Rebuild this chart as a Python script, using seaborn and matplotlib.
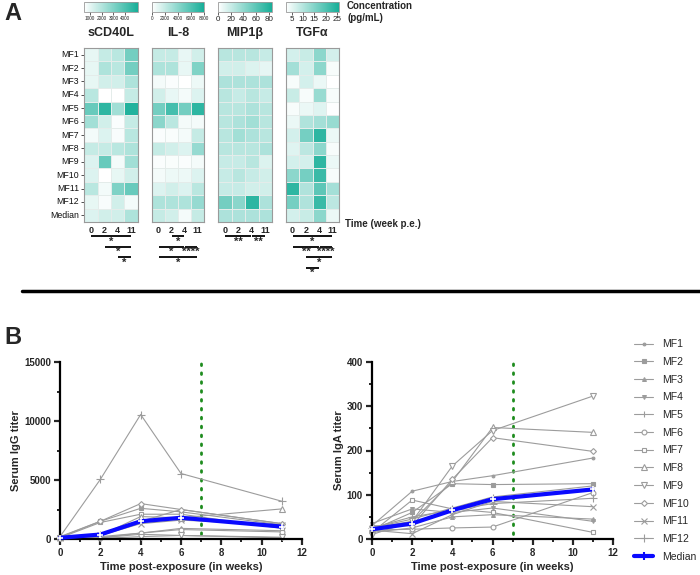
import numpy as np
import pandas as pd
import matplotlib
matplotlib.use("Agg")
import matplotlib.pyplot as plt
import seaborn as sns
from matplotlib.colors import LinearSegmentedColormap
from matplotlib.lines import Line2D
from matplotlib.transforms import blended_transform_factory
from matplotlib.ticker import MultipleLocator

# ---------------- data ----------------
animals = ["MF1", "MF2", "MF3", "MF4", "MF5", "MF6", "MF7", "MF8", "MF9", "MF10", "MF11", "MF12"]
row_labels = animals + ["Median"]
time_labels = ["0", "2", "4", "11"]

scd40l = [[960, 1650, 1880, 3260], [960, 2110, 1880, 3260], [960, 1420, 1420, 2110],
          [1880, 500, 500, 1650], [3490, 4640, 2340, 4870], [2340, 1420, 590, 1650],
          [730, 1190, 640, 1880], [1650, 1650, 1880, 2110], [1190, 3490, 730, 2340],
          [1190, 500, 960, 1420], [1880, 730, 3030, 3490], [960, 640, 1420, 730],
          [1190, 1420, 1420, 2110]]
il8 = [[2000, 2000, 800, 1600], [2800, 2800, 800, 4400], [400, 160, 0, 640],
       [1600, 800, 400, 1200], [4800, 6400, 4800, 7200], [4000, 2400, 400, 400],
       [160, 240, 400, 2000], [2000, 1600, 1200, 3600], [160, 240, 160, 400],
       [400, 640, 640, 1200], [1200, 1600, 1200, 2400], [2800, 2800, 2800, 3600],
       [2000, 1600, 400, 2000]]
mip1b = [[26, 26, 26, 21], [17, 17, 13, 9], [30, 30, 30, 30], [26, 21, 26, 21],
         [26, 26, 30, 26], [26, 30, 34, 26], [26, 34, 30, 26], [26, 26, 26, 30],
         [21, 21, 26, 13], [21, 26, 21, 17], [21, 21, 17, 17], [51, 43, 77, 30],
         [30, 30, 30, 30]]
tgfa = [[6.8, 8.0, 14.0, 6.8], [11.6, 6.8, 14.0, 3.2], [3.2, 6.8, 4.4, 2.0],
        [8.0, 3.2, 12.8, 3.2], [3.2, 4.4, 5.6, 2.5], [4.4, 10.4, 11.6, 12.8],
        [6.8, 16.4, 23.6, 4.4], [5.6, 9.2, 14.0, 3.2], [6.8, 6.8, 23.6, 4.4],
        [14.0, 16.4, 22.4, 3.2], [23.6, 10.4, 18.8, 11.6], [16.4, 10.4, 22.4, 9.2],
        [6.8, 8.0, 14.0, 4.4]]

# significance brackets: (from column, to column, label, row)
sig_scd40l = [(0, 3, "*", 0), (1, 3, "*", 1), (2, 3, "*", 2)]
sig_il8 = [(1, 2, "*", 0), (0, 2, "*", 1), (2, 3, "****", 1), (0, 3, "*", 2)]
sig_mip1b = [(0, 2, "**", 0), (2, 3, "**", 0)]
sig_tgfa = [(0, 3, "*", 0), (0, 2, "**", 1), (2, 3, "****", 1), (1, 3, "*", 2), (1, 2, "*", 3)]

weeks = [0, 2, 4, 6, 11]
igg = [[100, 300, 1400, 1700, 1100], [150, 1500, 2600, 2300, 1200], [100, 200, 500, 900, 700],
       [50, 100, 400, 300, 100], [100, 400, 1500, 2500, 1300], [50, 100, 500, 800, 600],
       [100, 1400, 2100, 2100, 900], [200, 300, 1900, 1800, 2550], [50, 50, 200, 300, 150],
       [200, 1500, 3000, 2500, 1300], [50, 300, 1300, 1600, 1200], [200, 5050, 10550, 5550, 3200]]
igg_median = [100, 380, 1500, 1800, 1050]
iga = [[30, 108, 130, 143, 183], [20, 60, 125, 123, 125], [15, 25, 50, 55, 45],
       [35, 68, 60, 70, 40], [25, 45, 70, 95, 120], [20, 22, 25, 27, 105],
       [15, 88, 68, 60, 15], [25, 40, 130, 252, 241], [10, 40, 165, 245, 323],
       [30, 30, 135, 229, 198], [20, 12, 55, 85, 73], [25, 50, 65, 80, 92]]
iga_median = [22, 35, 65, 90, 112]

# ---------------- style ----------------
sns.set_style("white")
plt.rcParams["font.family"] = ["Liberation Sans", "DejaVu Sans"]

W, H = 700, 575
fig = plt.figure(figsize=(7, 5.75), dpi=100)


def px_axes(x0, y0, x1, y1):
    return fig.add_axes([x0 / W, 1 - y1 / H, (x1 - x0) / W, (y1 - y0) / H])


def fig_text(x, y, s, **kw):
    fig.text(x / W, 1 - y / H, s, **kw)


teal = LinearSegmentedColormap.from_list("teal", ["#ffffff", "#17ae98"])

panels = [
    ("sCD40L", scd40l, 490, 5100, [1000, 2000, 3000, 4000], 84, 138, 3.4, sig_scd40l),
    ("IL-8", il8, 0, 8000, [0, 2000, 4000, 6000, 8000], 152, 204, 3.4, sig_il8),
    ("MIP1β", mip1b, 0, 85, [0, 20, 40, 60, 80], 218, 272, 5.8, sig_mip1b),
    ("TGFα", tgfa, 2.3, 26, [5, 10, 15, 20, 25], 286, 339, 5.8, sig_tgfa),
]
hm_top, hm_bot = 48, 222
sig_rows = [236, 246.5, 257, 267.5]

for i, (name, vals, vmin, vmax, cticks, x0, x1, cfs, sigs) in enumerate(panels):
    df = pd.DataFrame(vals, index=row_labels, columns=time_labels)
    ax = px_axes(x0, hm_top, x1, hm_bot)
    cax = px_axes(x0, 2, x1, 12)
    sns.heatmap(df, ax=ax, cmap=teal, vmin=vmin, vmax=vmax, linewidths=0.4,
                linecolor="#e4ecea", cbar_ax=cax, xticklabels=True,
                yticklabels=(i == 0),
                cbar_kws={"orientation": "horizontal", "ticks": cticks})
    cax.tick_params(labelsize=cfs, length=2, width=0.5, pad=1, colors="#222222")
    cb = ax.collections[0].colorbar
    cb.outline.set_edgecolor("#999999")
    cb.outline.set_linewidth(0.6)
    for sp in ax.spines.values():
        sp.set_visible(True)
        sp.set_edgecolor("#9a9a9a")
        sp.set_linewidth(0.8)
    ax.set_xlabel("")
    ax.set_ylabel("")
    ax.tick_params(axis="x", length=0, labelsize=6.5, pad=3)
    for t in ax.get_xticklabels():
        t.set_fontweight("bold")
        t.set_rotation(0)
    if i == 0:
        ax.tick_params(axis="y", length=2, width=0.6, labelsize=6.3, pad=1.5,
                       colors="#333333", labelcolor="#111111", left=True)
        for t in ax.get_yticklabels():
            t.set_rotation(0)
    else:
        ax.tick_params(axis="y", left=False)
    fig_text((x0 + x1) / 2, 33, name, ha="center", va="center", fontsize=9, fontweight="bold")

    trans = blended_transform_factory(ax.transData, fig.transFigure)
    for a, b, lab, r in sigs:
        yy = 1 - sig_rows[r] / H
        ax.plot([a + 0.5 + 0.04, b + 0.5 - 0.04], [yy, yy], color="black", lw=1.3,
                transform=trans, clip_on=False, solid_capstyle="butt")
        ax.text((a + b) / 2 + 0.5, yy - 0.5 / H, lab, ha="center", va="top", fontsize=8,
                fontweight="bold", transform=trans)

fig_text(347, 1, "Concentration\n(pg/mL)", ha="left", va="top", fontsize=7,
         fontweight="bold", linespacing=1.2)
fig_text(345, 224, "Time (week p.e.)", ha="left", va="center", fontsize=7, fontweight="bold")

fig_text(4, 13, "A", ha="left", va="center", fontsize=17, fontweight="bold")
fig_text(4, 338, "B", ha="left", va="center", fontsize=17, fontweight="bold")
fig.add_artist(Line2D([22 / W, 1], [1 - 291 / H, 1 - 291 / H], color="black", lw=2.5,
                      transform=fig.transFigure))

# ---------------- panel B ----------------
gray = "#9c9c9c"
markers = [".", "s", "^", "v", "|", "o", "s", "^", "v", "D", "x", "+"]
filled = [True, True, True, True, True, False, False, False, False, False, True, True]
msizes = [4, 2.5, 2.8, 2.8, 4, 3.5, 3.5, 3.8, 3.8, 3, 4.5, 6]


def line_panel(ax, series, median, ymax, ymajor, yminor, ylabel):
    for k, vals in enumerate(series):
        sns.lineplot(x=weeks, y=vals, ax=ax, color=gray, lw=0.8, marker=markers[k],
                     ms=msizes[k], mfc=gray if filled[k] else "white", mec=gray,
                     mew=0.8, clip_on=False, zorder=2, estimator=None, legend=False)
    ax.axvline(7, ymin=0.03, ymax=1.0, color="#1e8c1e", lw=2.0,
               linestyle=(0, (0.6, 2.6)), dash_capstyle="round", zorder=1)
    sns.lineplot(x=weeks, y=median, ax=ax, color="#0a0aff", lw=3, marker="+", ms=5,
                 mew=1.2, clip_on=False, zorder=4, estimator=None, legend=False)
    ax.set_xlim(0, 12)
    ax.set_ylim(0, ymax)
    ax.xaxis.set_major_locator(MultipleLocator(2))
    ax.xaxis.set_minor_locator(MultipleLocator(1))
    ax.yaxis.set_major_locator(MultipleLocator(ymajor))
    ax.yaxis.set_minor_locator(MultipleLocator(yminor))
    for s in ["top", "right"]:
        ax.spines[s].set_visible(False)
    for s in ["left", "bottom"]:
        ax.spines[s].set_linewidth(1.6)
        ax.spines[s].set_color("black")
    ax.tick_params(which="major", length=4.5, width=1.6, direction="out", labelsize=7,
                   pad=2, left=True, bottom=True)
    ax.tick_params(which="minor", length=2.5, width=1.4, direction="out", left=True,
                   bottom=True)
    for t in ax.get_xticklabels() + ax.get_yticklabels():
        t.set_fontweight("bold")
    ax.set_xlabel("Time post-exposure (in weeks)", fontsize=8, fontweight="bold", labelpad=3)
    ax.set_ylabel(ylabel, fontsize=8, fontweight="bold", labelpad=2)


ax_g = px_axes(60, 362, 302, 539)
line_panel(ax_g, igg, igg_median, 15000, 5000, 2500, "Serum IgG titer")
ax_a = px_axes(372, 362, 613, 539)
line_panel(ax_a, iga, iga_median, 400, 100, 50, "Serum IgA titer")

handles = []
for k in range(len(animals)):
    handles.append(Line2D([], [], color=gray, lw=0.8, marker=markers[k], ms=msizes[k],
                          mfc=gray if filled[k] else "white", mec=gray, mew=0.8))
handles.append(Line2D([], [], color="#0a0aff", lw=3, marker="+", ms=6, mew=1.5))
fig.legend(handles, animals + ["Median"], loc="upper left",
           bbox_to_anchor=(630 / W, 1 - 335 / H), frameon=False, fontsize=7.5,
           handlelength=1.8, handletextpad=0.9, labelspacing=0.74, borderaxespad=0)

fig.savefig("out.png", dpi=100)
